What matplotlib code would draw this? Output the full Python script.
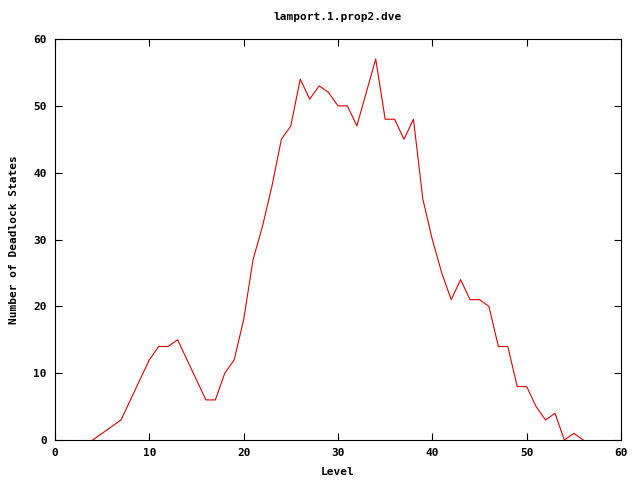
import matplotlib
matplotlib.use("Agg")
import matplotlib.pyplot as plt

# deadlock states per level
levels = list(range(4, 57))
deadlocks = [0, 1, 2, 3, 6, 9, 12, 14, 14, 15, 12, 9, 6, 6, 10, 12, 18, 27, 32, 38,
             45, 47, 54, 51, 53, 52, 50, 50, 47, 52, 57, 48, 48, 45, 48, 36, 30, 25,
             21, 24, 21, 21, 20, 14, 14, 8, 8, 5, 3, 4, 0, 1, 0]

plt.rcParams['font.family'] = 'DejaVu Sans Mono'
plt.rcParams['font.weight'] = 'bold'
plt.rcParams['font.size'] = 8

fig = plt.figure(figsize=(6.4, 4.8), dpi=100)
ax = fig.add_axes([0.0859, 0.0833, 0.8844, 0.8354])
ax.plot(levels, deadlocks, color='#e00000', lw=0.8)

ax.set_xlim(0, 60)
ax.set_ylim(0, 60)
ax.set_xticks(range(0, 61, 10))
ax.set_yticks(range(0, 61, 10))
ax.tick_params(direction='in', top=True, right=True, length=5, width=0.8, pad=6)
for s in ax.spines.values():
    s.set_linewidth(0.8)

ax.set_title("lamport.1.prop2.dve", fontsize=8, fontweight='bold', pad=14)
ax.set_xlabel("Level", fontsize=8, fontweight='bold', labelpad=6)
ax.set_ylabel("Number of Deadlock States", fontsize=8, fontweight='bold', labelpad=10)

fig.savefig("out.png", dpi=100)
